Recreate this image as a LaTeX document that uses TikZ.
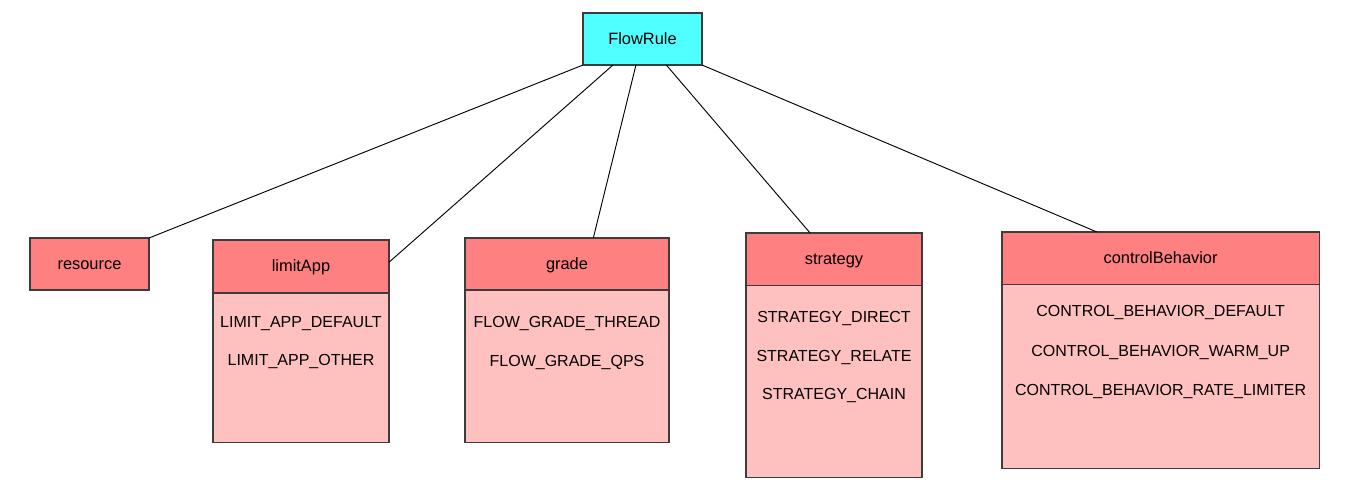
\documentclass[tikz,border=0pt]{standalone}
\usepackage{fontspec}
\setmainfont{Liberation Sans}
\usetikzlibrary{calc}
\definecolor{hdrfill}{HTML}{FF8080}
\definecolor{bodyfill}{HTML}{FFC0C0}
\definecolor{rootfill}{HTML}{50FFFF}
\definecolor{edgegray}{HTML}{3C3C3C}
\tikzset{
  box/.style={draw=edgegray, line width=0.9pt, rectangle, inner sep=0pt, outer sep=0pt},
  rootbox/.style={box, fill=rootfill, font=\fontsize{12.3}{14}\selectfont, text height=0.76em, text depth=0pt},
  hdrbox/.style={box, fill=hdrfill, font=\fontsize{12.3}{14}\selectfont, text height=0.75em, text depth=0pt},
  bodybox/.style={box, fill=bodyfill},
  item/.style={inner sep=0pt, font=\fontsize{12}{14}\selectfont, text height=0.75em, text depth=0pt},
  link/.style={draw=black, line width=0.7pt}
}
\begin{document}
\begin{tikzpicture}[x=0.75pt,y=-0.75pt]
\useasboundingbox (0,0) rectangle (1350,492);
% root
\node[rootbox, minimum width=89.25pt, minimum height=39pt] (flow) at (642.5,39) {FlowRule};
% resource
\node[hdrbox, minimum width=89.25pt, minimum height=39pt] (resource) at (89.5,264) {resource};
% limitApp
\node[bodybox, minimum width=132pt, minimum height=112pt] (limitbody) at (301,367.5) {};
\node[hdrbox, minimum width=132pt, minimum height=39.75pt] (limit) at (301,266.5) {limitApp};
\node[item] (l1) at (301,322) {LIMIT\_APP\_DEFAULT};
\node[item] (l2) at (301,360.5) {LIMIT\_APP\_OTHER};
% grade
\node[bodybox, minimum width=153pt, minimum height=114pt] (gradebody) at (567,366.3) {};
\node[hdrbox, minimum width=153pt, minimum height=39pt] (grade) at (567,264) {grade};
\node[item] (g1) at (567,322.3) {FLOW\_GRADE\_THREAD};
\node[item] (g2) at (567,361) {FLOW\_GRADE\_QPS};
% strategy
\node[bodybox, minimum width=132pt, minimum height=143.7pt] (stratbody) at (834,381.5) {};
\node[hdrbox, minimum width=132pt, minimum height=39.5pt] (strat) at (834,259.3) {strategy};
\node[item] (s1) at (834,317.3) {STRATEGY\_DIRECT};
\node[item] (s2) at (834,356) {STRATEGY\_RELATE};
\node[item] (s3) at (834,394.3) {STRATEGY\_CHAIN};
% controlBehavior
\node[bodybox, minimum width=237.9pt, minimum height=138pt] (cbbody) at (1160.6,376.7) {};
\node[hdrbox, minimum width=237.9pt, minimum height=39.5pt] (cb) at (1160.6,258.3) {controlBehavior};
\node[item] (c1) at (1160.6,311.7) {CONTROL\_BEHAVIOR\_DEFAULT};
\node[item] (c2) at (1160.6,351.3) {CONTROL\_BEHAVIOR\_WARM\_UP};
\node[item] (c3) at (1160.6,390) {CONTROL\_BEHAVIOR\_RATE\_LIMITER};
% connectors
\draw[link] (flow.south west) -- (resource.north east);
\draw[link] ($(flow.south west)!0.252!(flow.south east)$) -- ($(limit.north east)!0.42!(limit.south east)$);
\draw[link] ($(flow.south west)!0.445!(flow.south east)$) -- ($(grade.north west)!0.629!(grade.north east)$);
\draw[link] ($(flow.south west)!0.70!(flow.south east)$) -- ($(strat.north west)!0.364!(strat.north east)$);
\draw[link] (flow.south east) -- ($(cb.north west)!0.299!(cb.north east)$);
\end{tikzpicture}
\end{document}
